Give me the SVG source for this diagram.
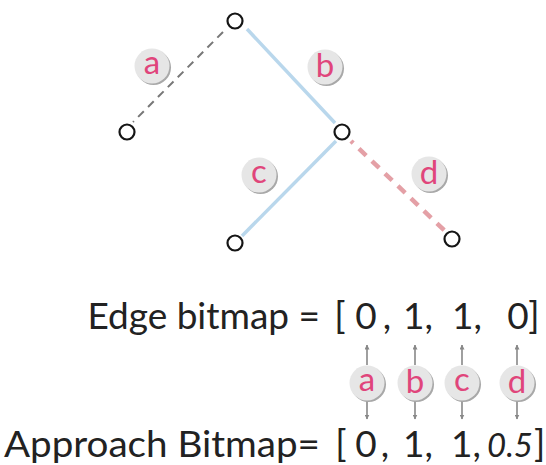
<svg xmlns="http://www.w3.org/2000/svg" width="546" height="465" viewBox="0 0 546 465">
<defs>
<marker id="ah" viewBox="0 0 10 10" refX="9" refY="5" markerWidth="5" markerHeight="5" orient="auto-start-reverse" markerUnits="userSpaceOnUse">
<path d="M0,0 L10,5 L0,10 z" fill="#888"/>
</marker>
</defs>
<style>
.node{fill:#fff;stroke:#151515;stroke-width:2.2}
.lblsh{fill:#a8a8a8}
.lbl{fill:#e6e6e6}
.lt{font-family:Lato,"Liberation Sans",sans-serif;font-size:33px;fill:#e0457b;text-anchor:middle}
.tx{font-family:Lato,"Liberation Sans",sans-serif;font-size:37px;fill:#222}
.m{text-anchor:middle}
.e{text-anchor:end}
.arr{stroke:#888;stroke-width:1.6;fill:none;marker-end:url(#ah)}
</style>
<g id="connectors">
<line x1="223" y1="32" x2="133" y2="122" stroke="#777" stroke-width="2" stroke-dasharray="8 6"/>
<line x1="247" y1="29" x2="335" y2="123" stroke="#b9d7ec" stroke-width="3.5"/>
<line x1="336" y1="141" x2="242" y2="236" stroke="#b9d7ec" stroke-width="3.5"/>
<line x1="351" y1="141" x2="446" y2="232" stroke="#e4a0a6" stroke-width="4.5" stroke-dasharray="10 8" stroke-dashoffset="7"/>
<line x1="367" y1="365" x2="367" y2="345" class="arr"/>
<line x1="367" y1="401" x2="367" y2="419" class="arr"/>
<line x1="415" y1="365" x2="415" y2="345" class="arr"/>
<line x1="415" y1="401" x2="415" y2="419" class="arr"/>
<line x1="462" y1="365" x2="462" y2="345" class="arr"/>
<line x1="462" y1="401" x2="462" y2="419" class="arr"/>
<line x1="517" y1="365" x2="517" y2="345" class="arr"/>
<line x1="517" y1="401" x2="517" y2="419" class="arr"/>
</g>
<g id="n-top"><circle class="node" cx="235" cy="21" r="7.5"/></g>
<g id="n-left"><circle class="node" cx="127" cy="132" r="7.5"/></g>
<g id="n-mid"><circle class="node" cx="342" cy="132" r="7.5"/></g>
<g id="n-bl"><circle class="node" cx="235" cy="243" r="7.5"/></g>
<g id="n-br"><circle class="node" cx="452" cy="239" r="7.5"/></g>
<g id="lbl-a"><circle class="lblsh" cx="153.5" cy="67.5" r="17.5"/><circle class="lbl" cx="152" cy="66" r="17.5"/><text class="lt" x="152" y="74">a</text></g>
<g id="lbl-b"><circle class="lblsh" cx="326.5" cy="68.5" r="17.5"/><circle class="lbl" cx="325" cy="67" r="17.5"/><text class="lt" x="325" y="77">b</text></g>
<g id="lbl-c"><circle class="lblsh" cx="260.5" cy="176.5" r="17.5"/><circle class="lbl" cx="259" cy="175" r="17.5"/><text class="lt" x="259" y="183">c</text></g>
<g id="lbl-d"><circle class="lblsh" cx="430.5" cy="175.5" r="17.5"/><circle class="lbl" cx="429" cy="174" r="17.5"/><text class="lt" x="429" y="184">d</text></g>
<g id="edge-bitmap">
<text class="tx e" x="320" y="329">Edge bitmap =</text>
<text class="tx m" x="340" y="329">[</text>
<text class="tx m" x="366" y="329">0</text>
<text class="tx m" x="387" y="329">,</text>
<text class="tx" x="403" y="329">1,</text>
<text class="tx" x="452" y="329">1,</text>
<text class="tx m" x="518" y="329">0</text>
<text class="tx m" x="534" y="329">]</text>
</g>
<g id="bl-a"><circle class="lblsh" cx="368.5" cy="384.5" r="17.5"/><circle class="lbl" cx="367" cy="383" r="17.5"/><text class="lt" x="367" y="391">a</text></g>
<g id="bl-b"><circle class="lblsh" cx="416.5" cy="384.5" r="17.5"/><circle class="lbl" cx="415" cy="383" r="17.5"/><text class="lt" x="415" y="393">b</text></g>
<g id="bl-c"><circle class="lblsh" cx="463.5" cy="384.5" r="17.5"/><circle class="lbl" cx="462" cy="383" r="17.5"/><text class="lt" x="462" y="391">c</text></g>
<g id="bl-d"><circle class="lblsh" cx="518.5" cy="384.5" r="17.5"/><circle class="lbl" cx="517" cy="383" r="17.5"/><text class="lt" x="517" y="393">d</text></g>
<g id="approach-bitmap">
<text class="tx" x="4" y="457" textLength="316" lengthAdjust="spacingAndGlyphs">Approach Bitmap=</text>
<text class="tx m" x="341" y="457">[</text>
<text class="tx m" x="366" y="457">0</text>
<text class="tx m" x="385" y="457">,</text>
<text class="tx" x="403" y="457">1,</text>
<text class="tx" x="451" y="457">1,</text>
<text class="tx" x="487" y="457"><tspan font-style="italic" font-size="33">0.5</tspan><tspan dx="1">]</tspan></text>
</g>
</svg>
